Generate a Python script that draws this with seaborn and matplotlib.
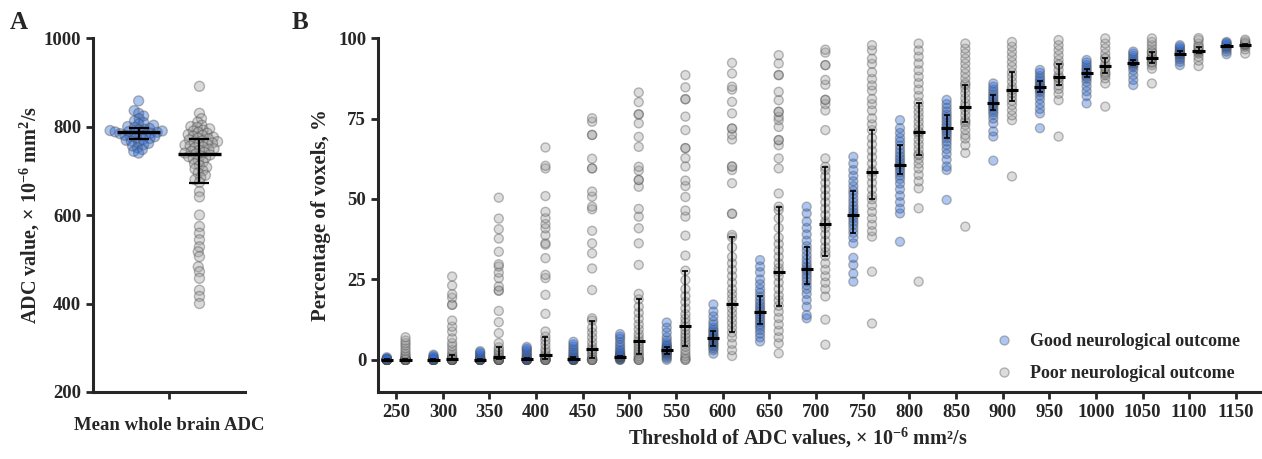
import numpy as np
import pandas as pd
import matplotlib.pyplot as plt
import seaborn as sns

# Panel A: mean whole brain ADC per patient (x 10^-6 mm2/s)
adc_good = [858, 836, 830, 824, 818, 813, 809, 806, 803, 800, 798, 796, 794, 793,
            791, 790, 789, 788, 787, 786, 785, 784, 782, 781, 780, 778, 777, 775,
            773, 771, 769, 767, 765, 762, 759, 756, 752, 748, 744, 740]
adc_poor = [891, 830, 818, 810, 803, 800, 798, 795, 792, 790, 787, 785, 782, 780,
            778, 776, 774, 772, 770, 768, 766, 765, 763, 761, 760, 758, 756, 754,
            752, 750, 748, 746, 744, 742, 740, 738, 736, 734, 732, 730, 727, 724,
            720, 716, 712, 708, 704, 700, 695, 690, 685, 680, 674, 653, 641, 600,
            574, 559, 544, 528, 517, 506, 483, 472, 457, 430, 416, 400]
adc_center = [787, 738]
adc_low = [771, 673]
adc_high = [797, 773]

# Panel B: percentage of voxels below each ADC threshold
thresholds = [250, 300, 350, 400, 450, 500, 550, 600, 650, 700, 750, 800, 850,
              900, 950, 1000, 1050, 1100, 1150]

good_pts = [
    [0, 0, 0, 0, 0, 0, 0, 0, 0, 0, 0, 0, 0, 0, 0, 0.1, 0.2, 0.3, 0.5, 0.8],
    [0, 0, 0, 0, 0, 0, 0, 0, 0, 0, 0, 0, 0, 0.1, 0.2, 0.4, 0.6, 0.9, 1.2, 1.6],
    [0, 0, 0, 0, 0, 0, 0, 0, 0, 0, 0, 0.1, 0.2, 0.4, 0.7, 1.0, 1.4, 1.9, 2.3, 2.7],
    [0, 0, 0, 0, 0, 0, 0, 0, 0, 0.1, 0.2, 0.4, 0.7, 1.0, 1.5, 2.0, 2.5, 3.0, 3.5, 4.0],
    [0, 0, 0, 0, 0, 0, 0, 0, 0.1, 0.3, 0.5, 0.8, 1.2, 1.7, 2.2, 2.8, 3.4, 4.1, 4.8, 5.6],
    [0, 0, 0.2, 0.4, 0.6, 0.8, 0.9, 1.0, 1.0, 1.1, 1.3, 1.6, 2.0, 2.5, 3.0, 3.8, 4.6,
     5.5, 6.5, 7.2, 8.0],
    [0, 0.5, 1.0, 1.5, 1.9, 2.1, 2.4, 2.6, 2.8, 2.9, 3.1, 3.3, 3.6, 3.9, 4.2, 4.6, 5.2,
     6.0, 7.0, 8.5, 10.0, 11.6],
    [1.9, 3.0, 3.6, 4.2, 4.6, 5.0, 5.5, 6.0, 6.4, 6.8, 7.2, 7.6, 8.2, 8.8, 9.3, 10.0,
     11.0, 12.0, 13.5, 15.0, 17.2],
    [5.7, 7.0, 8.2, 9.3, 10.2, 11.0, 11.8, 12.6, 13.4, 14.2, 15.0, 15.8, 16.6, 17.5,
     18.5, 19.6, 20.8, 22.0, 23.5, 25.0, 27.2, 29.0, 31.0],
    [12.9, 13.9, 16.5, 18.6, 20.5, 22.0, 23.2, 24.4, 25.5, 26.5, 27.5, 28.2, 29.0, 30.0,
     31.2, 32.5, 34.0, 35.3, 37.0, 39.0, 41.0, 43.0, 45.5, 47.6],
    [24.3, 26.8, 29.5, 31.7, 36.2, 38.0, 39.5, 40.8, 42.0, 43.0, 44.0, 44.9, 45.8, 46.8,
     47.8, 49.0, 50.2, 51.5, 52.6, 54.0, 55.5, 57.2, 59.0, 61.0, 63.1],
    [36.7, 45.5, 47.0, 49.0, 51.0, 53.0, 54.8, 56.2, 57.3, 58.3, 59.2, 60.0, 60.7, 61.5,
     62.4, 63.3, 64.3, 65.4, 66.6, 67.8, 69.0, 70.5, 72.0, 74.5],
    [49.7, 59.0, 60.1, 62.2, 64.0, 65.5, 66.8, 67.9, 68.9, 69.8, 70.6, 71.3, 72.0, 72.8,
     73.6, 74.5, 75.4, 76.2, 77.2, 78.3, 79.5, 80.8],
    [61.9, 69.4, 71.0, 73.5, 75.0, 76.2, 77.0, 77.8, 78.5, 79.2, 79.7, 80.3, 81.0, 81.7,
     82.4, 83.2, 84.0, 84.9, 85.9],
    [72.0, 76.6, 78.0, 79.5, 81.0, 82.2, 83.2, 83.8, 84.4, 84.9, 85.4, 86.0, 86.7, 87.4,
     88.2, 89.2, 90.1],
    [79.7, 82.0, 83.5, 85.0, 86.4, 87.4, 88.0, 88.6, 89.2, 89.7, 90.3, 90.9, 91.6, 92.4,
     93.2],
    [85.4, 87.0, 88.5, 90.0, 91.0, 91.5, 92.0, 92.3, 92.7, 93.2, 93.8, 94.5, 95.2, 95.8],
    [91.6, 92.6, 93.4, 94.0, 94.6, 95.0, 95.3, 95.6, 95.9, 96.3, 96.8, 97.3, 97.8],
    [95.0, 95.8, 96.5, 97.0, 97.3, 97.6, 97.9, 98.2, 98.5, 98.8],
]

poor_pts = [
    [0, 0, 0, 0, 0, 0, 0, 0, 0, 0, 0, 0, 0.3, 0.6, 1.0, 1.5, 2.0, 2.8, 3.6, 4.5, 5.2,
     6.0, 7.0],
    [0, 0, 0, 0, 0, 0, 0, 0, 0, 0, 0.2, 0.4, 0.6, 0.9, 1.4, 2.1, 3.1, 4.2, 5.2, 6.7,
     8.8, 10.3, 12.2, 17.1, 17.1, 19.3, 20.4, 23.1, 25.9],
    [0, 0, 0, 0, 0, 0, 0, 0, 0.2, 0.5, 0.8, 1.2, 1.8, 2.5, 3.1, 3.9, 5.2, 8.3, 11.7,
     15.2, 21.5, 21.5, 22.8, 25.4, 27.1, 29.0, 29.7, 33.6, 37.7, 40.6, 43.9, 50.4],
    [0, 0, 0, 0, 0, 0, 0.4, 0.8, 1.2, 1.6, 2.4, 3.3, 4.7, 6.0, 7.2, 8.8, 14.3, 20.2,
     25.4, 26.4, 31.6, 35.8, 36.2, 38.7, 40.9, 42.2, 44.0, 46.0, 50.9, 59.5, 60.3, 66.0],
    [0, 0, 0, 0, 0, 0.6, 1.2, 2.0, 2.7, 3.3, 4.2, 5.5, 7.0, 8.5, 10.0, 12.2, 12.9, 21.7,
     28.4, 33.1, 36.2, 40.1, 46.8, 47.6, 50.7, 52.3, 59.5, 59.5, 62.5, 69.9, 69.9, 74.0,
     75.1],
    [0, 0, 0, 0.6, 1.2, 1.9, 2.6, 3.4, 4.2, 5.0, 5.8, 6.8, 8.0, 9.5, 11.0, 12.8, 14.6,
     16.5, 18.8, 20.5, 29.5, 36.2, 40.9, 44.5, 46.9, 53.8, 55.9, 55.9, 58.8, 60.0, 66.2,
     69.3, 73.5, 76.3, 76.3, 80.1, 83.1],
    [0, 0, 0.5, 1.2, 2.0, 3.0, 4.1, 5.0, 6.0, 7.0, 8.0, 9.2, 10.3, 11.5, 12.8, 14.2,
     16.0, 18.0, 19.8, 22.0, 24.8, 27.7, 32.4, 38.6, 44.5, 46.4, 50.6, 54.0, 55.7, 60.1,
     62.7, 65.8, 65.8, 71.4, 75.6, 81.0, 81.0, 84.7, 88.5],
    [1.2, 3.0, 5.0, 7.0, 8.5, 10.0, 11.5, 13.0, 14.5, 16.0, 17.4, 19.0, 20.5, 22.0, 24.0,
     26.0, 28.0, 30.0, 32.0, 35.0, 38.1, 38.8, 45.4, 45.4, 54.9, 59.0, 60.1, 60.1, 68.5,
     70.0, 71.9, 71.9, 76.6, 80.2, 84.0, 84.9, 89.0, 92.3],
    [2.0, 5.1, 7.0, 9.0, 11.0, 13.0, 15.0, 16.8, 18.5, 20.0, 22.0, 24.0, 26.0, 27.4,
     28.5, 30.0, 32.0, 34.0, 36.0, 38.0, 41.0, 44.0, 46.6, 47.6, 51.7, 59.5, 62.6, 66.7,
     68.3, 68.3, 72.4, 74.5, 75.5, 77.1, 77.1, 80.7, 83.3, 88.5, 88.5, 92.1, 94.7],
    [4.7, 12.5, 19.7, 22.0, 24.0, 26.0, 28.0, 30.0, 32.3, 33.5, 35.0, 37.0, 39.0, 41.0,
     42.2, 43.0, 45.0, 47.0, 49.0, 51.0, 53.0, 55.0, 57.0, 59.0, 60.0, 62.6, 71.4, 77.5,
     79.5, 80.8, 80.8, 85.5, 87.0, 91.6, 91.6, 95.5, 96.4],
    [11.3, 27.4, 38.3, 40.0, 42.0, 44.0, 46.0, 48.0, 49.9, 51.0, 53.0, 55.0, 57.0, 58.4,
     59.0, 61.0, 63.0, 65.0, 67.0, 69.0, 71.4, 73.2, 75.1, 77.5, 79.5, 81.1, 83.7, 85.3,
     87.3, 89.4, 92.0, 93.6, 96.2, 97.8],
    [24.3, 47.1, 53.3, 55.5, 57.5, 59.5, 61.0, 62.5, 63.6, 64.0, 65.5, 67.0, 68.5, 70.0,
     70.7, 71.0, 72.5, 74.0, 75.5, 77.0, 78.5, 80.0, 82.0, 84.0, 86.0, 88.0, 90.0, 92.1,
     94.2, 96.2, 98.3],
    [41.4, 64.3, 66.7, 68.8, 69.9, 71.5, 73.0, 73.9, 74.5, 76.0, 77.5, 78.7, 79.8, 81.3,
     82.9, 84.4, 85.5, 86.0, 87.5, 89.0, 90.5, 92.1, 93.6, 95.2, 96.7, 98.3],
    [57.0, 74.5, 76.0, 77.6, 79.2, 80.5, 81.8, 82.9, 83.9, 84.9, 86.5, 88.0, 89.4, 91.1,
     92.6, 94.2, 95.7, 97.3, 98.8],
    [69.4, 80.7, 82.7, 84.2, 85.3, 86.5, 87.5, 87.8, 88.5, 90.1, 91.6, 91.9, 93.2, 94.7,
     96.3, 97.8, 99.4],
    [78.7, 85.9, 87.5, 88.5, 89.0, 89.5, 90.6, 91.1, 92.1, 93.7, 93.8, 95.2, 96.8, 98.3,
     99.9],
    [85.9, 90.5, 91.6, 92.3, 92.6, 93.6, 93.8, 94.0, 94.7, 95.6, 95.7, 96.7, 97.8, 98.8,
     99.9],
    [91.3, 93.0, 94.2, 95.2, 95.7, 96.1, 96.3, 97.3, 97.3, 98.3, 99.4, 100.0],
    [95.2, 96.5, 97.3, 97.7, 98.0, 98.0, 98.2, 98.3, 98.5, 99.0, 99.5],
]

# median and interquartile range
good_med = [0, 0, 0, 0.1, 0.3, 1.0, 2.9, 6.7, 14.9, 28.2, 44.9, 60.7, 72.0, 79.7, 84.9,
            89.1, 92.3, 95.2, 97.5]
good_q1 = [0, 0, 0, 0, 0, 0.8, 1.9, 4.3, 11.2, 23.7, 39.5, 57.8, 68.9, 77.5, 83.2, 87.9,
           91.5, 94.6, 97.2]
good_q3 = [0.1, 0.2, 0.3, 0.5, 0.8, 1.3, 4.1, 9.1, 19.9, 35.0, 52.6, 66.7, 76.2, 82.4,
           86.7, 90.3, 93.2, 95.9, 97.8]
poor_med = [0, 0.4, 0.8, 1.6, 3.3, 5.9, 10.4, 17.4, 27.4, 42.2, 58.4, 70.7, 78.7, 83.9,
            87.9, 91.2, 93.9, 96.1, 98.0]
poor_q1 = [0, 0, 0.2, 0.4, 0.6, 1.9, 4.2, 8.6, 16.8, 32.3, 49.9, 63.6, 73.9, 80.6, 85.4,
           89.2, 92.3, 95.3, 97.7]
poor_q3 = [0.1, 1.4, 3.9, 7.2, 12.2, 18.8, 27.7, 38.1, 47.6, 60.0, 71.4, 79.9, 85.5, 89.4,
           91.9, 93.8, 95.7, 97.3, 98.3]

groups = ['Good neurological outcome', 'Poor neurological outcome']
palette = {groups[0]: '#2f6cd8', groups[1]: '#a3a3a3'}

# long tables
df_a = pd.DataFrame({
    'cat': ['Mean whole brain ADC'] * (len(adc_good) + len(adc_poor)),
    'group': [groups[0]] * len(adc_good) + [groups[1]] * len(adc_poor),
    'value': adc_good + adc_poor,
})
rows = []
for t, g, p in zip(thresholds, good_pts, poor_pts):
    rows += [(str(t), groups[0], v) for v in g]
    rows += [(str(t), groups[1], v) for v in p]
df_b = pd.DataFrame(rows, columns=['threshold', 'group', 'value'])

sns.set_style('ticks')
plt.rcParams['font.family'] = ['Liberation Serif', 'DejaVu Serif']
plt.rcParams['font.weight'] = 'bold'
plt.rcParams['mathtext.fontset'] = 'custom'
plt.rcParams['mathtext.rm'] = 'Liberation Serif:bold'
plt.rcParams['mathtext.it'] = 'Liberation Serif:bold'
plt.rcParams['mathtext.bf'] = 'Liberation Serif:bold'

fig = plt.figure(figsize=(12.62, 4.59), dpi=100)
ax_a = fig.add_axes([0.0737, 0.146, 0.1205, 0.771])
ax_b = fig.add_axes([0.2995, 0.146, 0.7005, 0.771])

# Panel A: swarm laid out with small markers, then frozen and drawn larger
# so the circles overlap like in the original figure
ax_a.set_ylim(200, 1000)
sns.swarmplot(data=df_a, x='cat', y='value', hue='group', hue_order=groups,
              palette=palette, dodge=True, size=2.6, alpha=0.4, linewidth=1,
              edgecolor='gray', legend=False, ax=ax_a)
ax_a.set_xlim(-0.5, 0.5)
ax_a.set_ylim(200, 1000)
fig.canvas.draw()
for coll in ax_a.collections:
    if 'draw' in coll.__dict__:
        del coll.draw
    coll.set_sizes([7.2 ** 2])

xa = np.array([-0.2, 0.2])
ax_a.errorbar(xa, adc_center,
              yerr=[np.subtract(adc_center, adc_low), np.subtract(adc_high, adc_center)],
              fmt='none', ecolor='black', elinewidth=1.6, capsize=7, capthick=1.6,
              zorder=5)
ax_a.hlines(adc_center, xa - 0.14, xa + 0.14, color='black', lw=2.4, zorder=5)
ax_a.set_yticks([200, 400, 600, 800, 1000])
ax_a.set_xlabel('')
ax_a.set_ylabel(r'ADC value, × 10$^{-6}$ mm$^{2}$/s', fontsize=14.5, fontweight='bold',
                labelpad=1)
ax_a.tick_params(axis='x', pad=13)

# Panel B
sns.stripplot(data=df_b, x='threshold', y='value', hue='group', hue_order=groups,
              order=[str(t) for t in thresholds], palette=palette, dodge=True,
              jitter=False, size=6.5, alpha=0.38, linewidth=1, edgecolor='gray', ax=ax_b)
for coll in ax_b.collections:
    coll.set_clip_on(False)
xb = np.arange(len(thresholds))
for off, med, lo, hi in [(-0.2, good_med, good_q1, good_q3),
                         (0.2, poor_med, poor_q1, poor_q3)]:
    med, lo, hi = np.array(med), np.array(lo), np.array(hi)
    ax_b.errorbar(xb + off, med, yerr=[med - lo, hi - med], fmt='none', ecolor='black',
                  elinewidth=1.2, capsize=2.3, capthick=1.2, zorder=5)
    ax_b.hlines(med, xb + off - 0.13, xb + off + 0.13, color='black', lw=2.2, zorder=5)
ax_b.set_xlim(-0.39, 18.56)
ax_b.set_ylim(-10, 100)
ax_b.set_yticks([0, 25, 50, 75, 100])
ax_b.set_xlabel('Threshold of ADC values, × 10$^{-6}$ mm²/s', fontsize=14.5,
                fontweight='bold')
ax_b.xaxis.set_label_coords(0.475, -0.095)
ax_b.set_ylabel('Percentage of voxels, %', fontsize=15, fontweight='bold', labelpad=5)

handles, labels = ax_b.get_legend_handles_labels()
ax_b.legend(handles, labels, loc='upper left', bbox_to_anchor=(0.768, 0.31),
            bbox_transform=fig.transFigure, frameon=False, fontsize=13,
            handletextpad=0.45, labelspacing=0.85, markerscale=1.0)

for ax in (ax_a, ax_b):
    sns.despine(ax=ax)
    for s in ('left', 'bottom'):
        ax.spines[s].set_linewidth(2.2)
    ax.tick_params(length=5, width=2.0, labelsize=13.5, direction='out')
    for lab in ax.get_xticklabels() + ax.get_yticklabels():
        lab.set_fontweight('bold')

fig.text(0.008, 0.952, 'A', fontsize=18, fontweight='bold', va='center')
fig.text(0.231, 0.952, 'B', fontsize=18, fontweight='bold', va='center')

fig.savefig('out.png', dpi=100)
